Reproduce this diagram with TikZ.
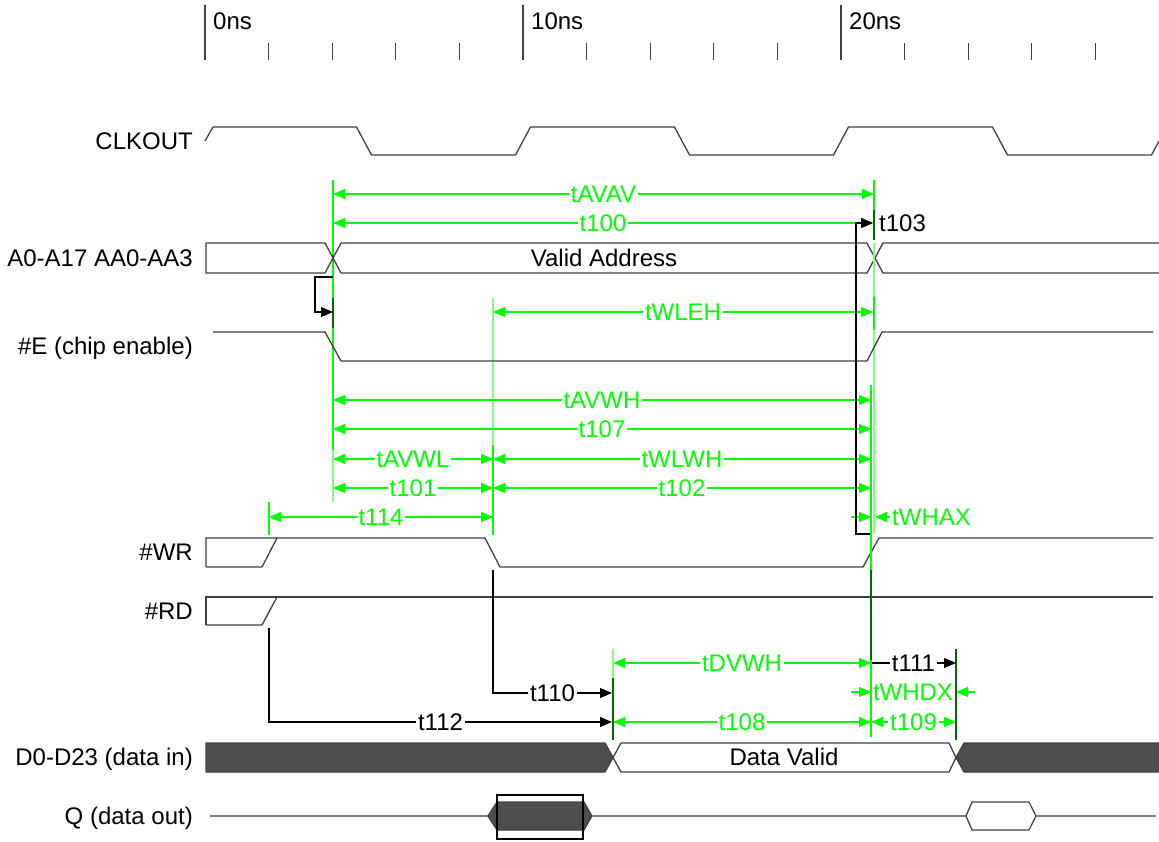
\documentclass[tikz,border=0pt]{standalone}
\usepackage{fontspec}
\setmainfont{Liberation Sans}
\usetikzlibrary{arrows.meta, positioning}

\definecolor{tgreen}{RGB}{0,255,0}
\definecolor{tlight}{RGB}{128,255,128}
\definecolor{tdark}{RGB}{0,105,0}
\definecolor{busdark}{RGB}{77,77,77}
\definecolor{wavegray}{RGB}{64,64,64}

\begin{document}
\begin{tikzpicture}[
    x=1pt, y=-1pt,
    font=\fontsize{24}{28}\selectfont,
    >={Triangle[length=12pt,width=10pt]},
    wave/.style={draw=wavegray, line width=1.3pt},
    busw/.style={wave, fill=white},
    busd/.style={wave, fill=busdark},
    tick/.style={draw=wavegray, line width=1.3pt},
    vbar/.style={draw=#1, line width=1.6pt},
    sname/.style={anchor=east, inner sep=0pt, text height=17pt, text depth=0pt},
    tname/.style={anchor=west, inner sep=0pt, text height=17pt, text depth=0pt},
    dlbl/.style={fill=white, inner xsep=2pt, inner ysep=1pt, text height=17pt,
                 text depth=0pt, text=tgreen},
    klbl/.style={dlbl, text=black},
    dim/.style={draw=tgreen, line width=1.2pt, <->},
    dimr/.style={draw=tgreen, line width=1.2pt, ->},
    ref/.style={draw=black, line width=1.1pt, ->}
]
\useasboundingbox (0,0) rectangle (1159,841);

% time axis
\foreach \k in {0,...,14}
  \draw[tick] ({205+63.6*\k},43) -- ({205+63.6*\k},60);
\foreach \k/\lab in {0/0ns, 1/10ns, 2/20ns} {
  \draw[tick] ({205+318*\k},5) -- ({205+318*\k},60);
  \node[tname] (ax\k) at ({213+318*\k},21) {\lab};
}

% signal names
\node[sname] (nclk)  at (193,141) {CLKOUT};
\node[sname] (naddr) at (193,258) {A0-A17 AA0-AA3};
\node[sname] (nce)   at (193,346) {\#E (chip enable)};
\node[sname] (nwr)   at (193,552) {\#WR};
\node[sname] (nrd)   at (193,611) {\#RD};
\node[sname] (ndin)  at (193,757) {D0-D23 (data in)};
\node[sname] (nq)    at (193,816) {Q (data out)};

% marker lines
\foreach \x/\ya/\yb/\c in {333/180/298/tgreen, 333/298/328/tdark, 333/328/450/tgreen,
                          333/450/502/tlight, 874/180/210/tgreen, 874/210/240/tdark,
                          874/273/297/tlight, 874/297/330/tgreen, 874/330/533/tlight,
                          493/298/445/tlight, 493/445/535/tgreen, 269/502/535/tgreen,
                          613/649/678/tlight, 956/649/740/tdark}
  \draw[vbar=\c] (\x,\ya) -- (\x,\yb);

% waveforms
\draw[wave] (205,141) -- (213,127) -- (356.5,127) -- (371.5,155) -- (515.5,155)
  -- (530.5,127) -- (674.5,127) -- (689.5,155) -- (833.5,155) -- (848.5,127)
  -- (992.5,127) -- (1007.5,155) -- (1151.5,155) -- (1159,141);

\draw[busw] (206,243) -- (325,243) -- (333,258) -- (325,273) -- (206,273) -- cycle;
\draw[busw] (333,258) -- (341,243) -- (867,243) -- (875,258) -- (867,273) -- (341,273) -- cycle;
\fill[white] (875,258) -- (883,243) -- (1159,243) -- (1159,273) -- (883,273) -- cycle;
\draw[wave] (1159,243) -- (883,243) -- (875,258) -- (883,273) -- (1159,273);
\node (vaddr) at (604,258) {Valid Address};
\draw[vbar=tlight] (874,243) -- (874,273);

\draw[wave] (213,332) -- (325,332) -- (341,361) -- (867,361) -- (882,332) -- (1153,332);

\draw[wave] (206,567) -- (206,538) -- (485,538) -- (500,567) -- (863,567) -- (879,538) -- (1153,538);
\draw[wave] (206,567) -- (262,567) -- (277,538);

\draw[wave] (206,625) -- (206,597) -- (1153,597);
\draw[wave] (206,625) -- (262,625) -- (277,597);

\draw[busd] (206,743) -- (605,743) -- (613,757.5) -- (605,772) -- (206,772) -- cycle;
\draw[busw] (613,757.5) -- (621,743) -- (949,743) -- (956,757.5) -- (949,772) -- (621,772) -- cycle;
\fill[busdark] (956,757.5) -- (964,743) -- (1159,743) -- (1159,772) -- (964,772) -- cycle;
\draw[wave] (1159,743) -- (964,743) -- (956,757.5) -- (964,772) -- (1159,772);
\node (dvalid) at (784,757) {Data Valid};

\draw[wave, draw=black!50] (210,816) -- (488,816);
\draw[busd] (488,816) -- (497,802) -- (584,802) -- (592,816) -- (584,830) -- (497,830) -- cycle;
\draw[wave, draw=black!50] (592,816) -- (966,816);
\draw[busw] (966,816) -- (972,802) -- (1029,802) -- (1036,816) -- (1029,830) -- (972,830) -- cycle;
\draw[wave, draw=black!50] (1036,816) -- (1156,816);
\draw[black, line width=2pt] (497,795) rectangle (583,839);

% timing arrows
\foreach \y/\xa/\xb/\txt/\nm in {194/333/874/tAVAV/avav, 223/333/873/t100/c100,
                                 312/493/873/tWLEH/wleh, 400/333/871/tAVWH/avwh,
                                 429/333/871/t107/c107, 459/333/493/tAVWL/avwl,
                                 459/493/871/tWLWH/wlwh, 488/333/493/t101/c101,
                                 488/493/871/t102/c102, 517/269/493/t114/c114,
                                 663/613/871/tDVWH/dvwh, 722/613/871/t108/c108,
                                 722/871/956/t109/c109}
  \draw[dim] (\xa,\y) -- (\xb,\y) node[dlbl, midway] (l\nm) {\txt};

\draw[dimr] (851,517) -- (871,517);
\draw[dimr] (892,517) -- (875,517);
\node[dlbl, anchor=west] (lwhax) at (890,517) {tWHAX};
\draw[dimr] (851,692) -- (871,692);
\draw[dimr] (975,692) -- (956,692);
\node[dlbl, fill=none] (lwhdx) at (913,692) {tWHDX};

\draw[ref] (333,277) -- (315,277) -- (315,312) -- (333,312);
\draw[ref] (871,534) -- (856,534) -- (856,223) -- (873,223);
\node[klbl, fill=none, anchor=west] (l103) at (877,223) {t103};
\draw[ref] (493,570) -- (493,693) -- (612,693) node[klbl, midway] (l110) {t110};
\draw[ref] (269,628) -- (269,722) -- (612,722) node[klbl, midway] (l112) {t112};
\draw[ref] (871,570) -- (871,663) -- (956,663) node[klbl, midway] (l111) {t111};

% marker line over t111 bracket
\draw[vbar=tgreen] (871,385) -- (871,570);
\draw[vbar=tdark] (871,570) -- (871,660);
\draw[vbar=tgreen] (871,660) -- (871,737);
\draw[vbar=tdark] (613,678) -- (613,740);
\end{tikzpicture}
\end{document}
